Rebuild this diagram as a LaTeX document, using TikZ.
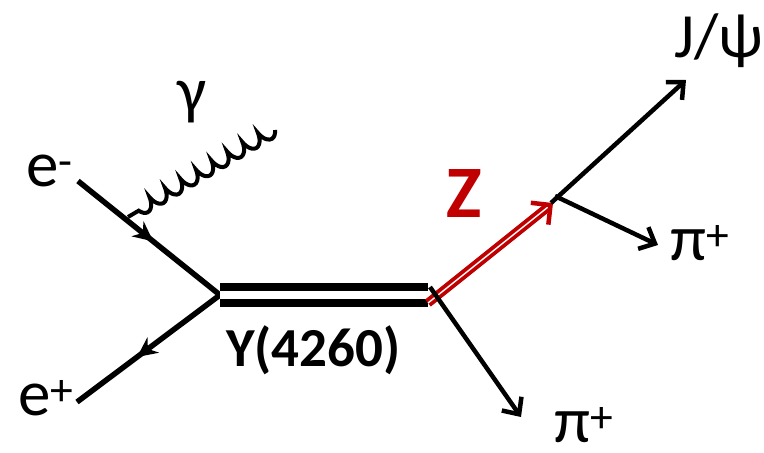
\documentclass[tikz,border=0pt]{standalone}
\usepackage{fontspec}
\setmainfont{Carlito}
\definecolor{Zred}{HTML}{C00000}
\usetikzlibrary{arrows.meta,decorations.markings,decorations.pathmorphing}

\begin{document}
\begin{tikzpicture}[x=1pt,y=-1pt,
    lbl/.style={font=\fontsize{65}{67}\selectfont,inner sep=0pt,anchor=base west},
    fermion/.style={line width=5.5pt,postaction={decorate},
      decoration={markings,mark=at position #1 with {\arrow{Stealth[length=20pt,width=19pt]}}}},
    outgoing/.style={line width=4.5pt,-{Straight Barb[length=13pt,width=24pt,line width=4.5pt]}},
    photon/.style={line width=4pt,decorate,
      decoration={coil,aspect=0.45,amplitude=6pt,segment length=18pt}}]
  \useasboundingbox (0,0) rectangle (764,453);
  % vertices
  \coordinate (ee) at (220,295);
  \coordinate (zv) at (428,295);
  \coordinate (zd) at (553,203);
  % free ends
  \coordinate (em) at (78,181);
  \coordinate (ep) at (77,402);
  \coordinate (g0) at (128,217);
  \coordinate (g1) at (275,130);
  \coordinate (jp) at (686,80);
  \coordinate (pu) at (658,245);
  \coordinate (pl) at (521,417);
  % incoming e+ e-
  \draw[fermion=0.53] (em) -- (ee);
  \draw[fermion=0.58] (ee) -- (ep);
  \draw[photon] (g1) -- (g0);
  % Y(4260)
  \draw[line width=7.5pt,double distance=8.5pt] (ee) -- (zv);
  % Z and decays
  \draw[Zred,line width=3.8pt,double distance=1.4pt,
    -{Straight Barb[length=14pt,width=28pt,line width=4.5pt]}] ([yshift=-8pt]zv) -- (zd);
  \draw[outgoing] ([xshift=-2pt]zd) -- (jp);
  \draw[outgoing] ([xshift=2pt,yshift=7pt]zd) -- (pu);
  \draw[outgoing] ([xshift=2pt,yshift=8pt]zv) -- (pl);
  % labels
  \node[lbl] (lem) at (26,186) {e\textsuperscript{-}};
  \node[lbl] (lep) at (18,415) {e\textsuperscript{+}};
  \node[lbl] (lg) at (177,112) {γ};
  \node[lbl,font=\fontsize{74}{76}\selectfont\bfseries,text=Zred] (lz) at (446,217) {Z};
  \node[lbl,font=\fontsize{55}{57}\selectfont\bfseries] (ly) at (226,366) {Y(4260)};
  \node[lbl,font=\fontsize{63}{65}\selectfont] (ljp) at (674,57) {J/ψ};
  \node[lbl] (lpu) at (670,260) {π\textsuperscript{+}};
  \node[lbl] (lpl) at (554,442) {π\textsuperscript{+}};
\end{tikzpicture}
\end{document}
